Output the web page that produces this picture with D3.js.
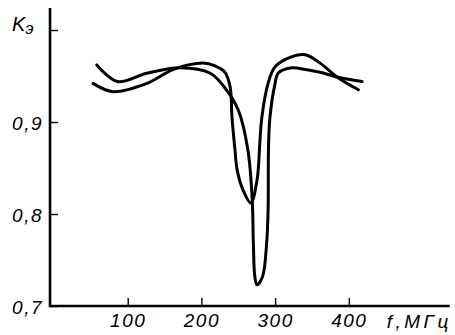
<!DOCTYPE html>
<html>
<head>
<meta charset="utf-8">
<script src="https://cdn.jsdelivr.net/npm/d3@7"></script>
<style>
  body { margin: 0; background: #fff; }
  .tick text { font-family: 'Liberation Sans', sans-serif; font-style: italic; font-size: 19px; fill: #000; letter-spacing: 1.5px; }
</style>
</head>
<body>
<div id="chart"></div>
<script>
// frequency, MHz
let freqDeep = [58, 86, 126, 171, 212, 232, 250, 263, 269, 270.5, 272.5, 275.5, 283, 288.5, 290.5, 291, 293, 300, 304, 323, 341, 361, 384, 418];
let kDeep = [0.962, 0.944, 0.953, 0.959, 0.953, 0.937, 0.913, 0.870, 0.815, 0.768, 0.732, 0.723, 0.732, 0.768, 0.804, 0.870, 0.905, 0.942, 0.953, 0.959, 0.957, 0.954, 0.949, 0.944];

let freqV = [53, 80, 126, 161.5, 202, 218.5, 232, 239, 241.5, 245.5, 248.5, 256.5, 267, 275.5, 279.5, 282, 290.5, 300, 323, 341, 361, 384, 413];
let kV = [0.942, 0.933, 0.942, 0.957, 0.964, 0.961, 0.954, 0.938, 0.905, 0.870, 0.848, 0.826, 0.812, 0.837, 0.880, 0.905, 0.942, 0.960, 0.971, 0.973, 0.964, 0.949, 0.935];

let xTicks = [100, 200, 300, 400];
let yTicks = [0.7, 0.8, 0.9, 1.0];
let yTickLabels = ["0,7", "0,8", "0,9", ""];
let xExtent = [-5.4, 537];
let yExtent = [0.7, 1.024];

let width = 455, height = 335;

let svg = d3.select("#chart").append("svg")
  .attr("width", width)
  .attr("height", height)
  .style("background", "#fff");

let x = d3.scaleLinear().domain([100, 400]).range([127.7, 348.8]);
let y = d3.scaleLinear().domain([0.7, 1.0]).range([306, 30]);

// axis lines
svg.append("line")
  .attr("x1", x(xExtent[0])).attr("x2", x(xExtent[1]))
  .attr("y1", y(0.7)).attr("y2", y(0.7))
  .attr("stroke", "#000").attr("stroke-width", 2.6);
svg.append("line")
  .attr("x1", x(xExtent[0])).attr("x2", x(xExtent[0]))
  .attr("y1", y(yExtent[0]) + 1.3).attr("y2", y(yExtent[1]))
  .attr("stroke", "#000").attr("stroke-width", 2.6);

// x axis ticks (pointing up)
let gx = svg.append("g")
  .attr("transform", "translate(0," + y(0.7) + ")")
  .call(d3.axisBottom(x).tickValues(xTicks).tickSize(-8).tickPadding(8));
gx.select(".domain").remove();
gx.selectAll(".tick line").attr("stroke", "#000").attr("stroke-width", 1.4);

// y axis ticks (pointing right)
let gy = svg.append("g")
  .attr("transform", "translate(" + x(xExtent[0]) + ",0)")
  .call(d3.axisLeft(y).tickValues(yTicks).tickSize(-8).tickPadding(7)
    .tickFormat(function (d, i) { return yTickLabels[i]; }));
gy.select(".domain").remove();
gy.selectAll(".tick line").attr("stroke", "#000").attr("stroke-width", 1.4);
gy.selectAll(".tick text").attr("dy", "0.4em");

// axis titles
let kLabel = svg.append("text")
  .attr("x", x(xExtent[0]) - 38)
  .attr("y", y(1.0) + 1)
  .style("font-family", "'Liberation Sans', sans-serif")
  .style("font-style", "italic")
  .style("font-size", "20px");
kLabel.append("tspan").text("K");
kLabel.append("tspan").attr("dy", 3).style("font-size", "17px").text("э");

svg.append("text")
  .attr("x", x(xExtent[1]) + 2)
  .attr("y", y(0.7) + 22)
  .attr("text-anchor", "end")
  .style("font-family", "'Liberation Sans', sans-serif")
  .style("font-style", "italic")
  .style("font-size", "19px")
  .style("letter-spacing", "3.5px")
  .text("f,МГц");

// curves
let line = d3.line()
  .x(function (d) { return x(d[0]); })
  .y(function (d) { return y(d[1]); })
  .curve(d3.curveCatmullRom.alpha(0.5));

let series = [d3.zip(freqDeep, kDeep), d3.zip(freqV, kV)];

svg.selectAll(".curve")
  .data(series)
  .enter().append("path")
  .attr("class", "curve")
  .attr("d", line)
  .attr("fill", "none")
  .attr("stroke", "#000")
  .attr("stroke-width", 3)
  .attr("stroke-linecap", "round")
  .attr("stroke-linejoin", "round");
</script>
</body>
</html>
